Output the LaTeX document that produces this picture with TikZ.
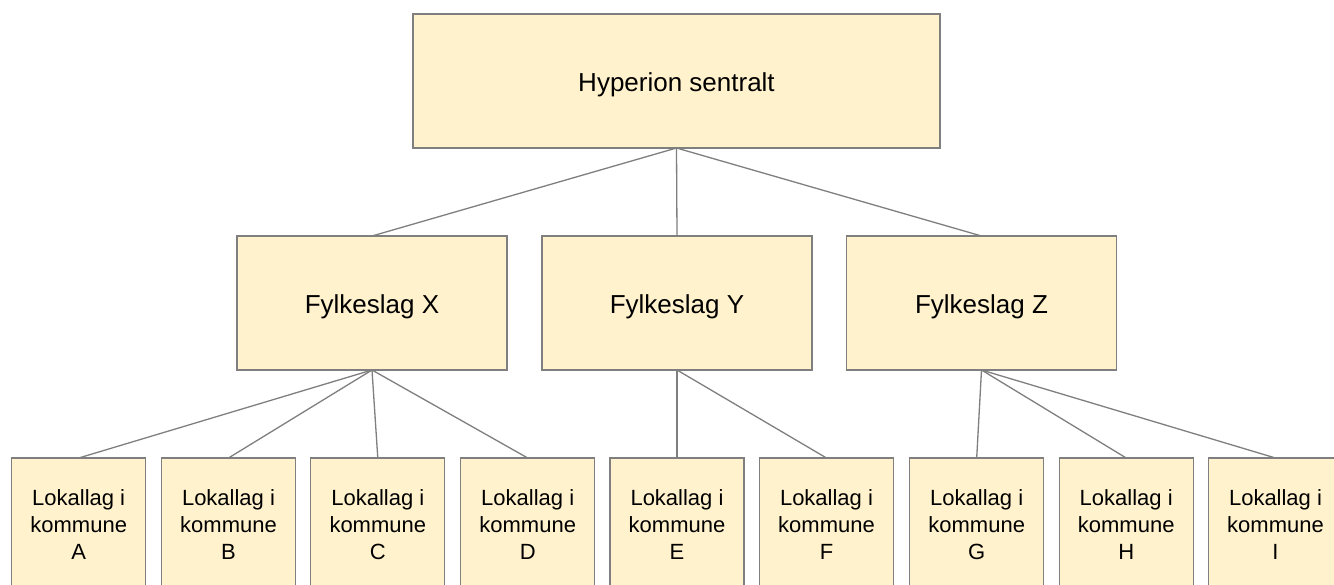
\documentclass[tikz,border=0pt]{standalone}
\usepackage{fontspec}
\setmainfont{Liberation Sans}
\definecolor{boxfill}{HTML}{FFF2CC}
\definecolor{boxline}{HTML}{7F7F7F}
\newcommand{\lowertext}[1]{\raisebox{-4pt}[\height][\depth]{#1}}
\begin{document}
\begin{tikzpicture}[x=1pt,y=-1pt,
  box/.style={draw=boxline, fill=boxfill, line width=1.3pt, inner sep=0pt, outer sep=0pt, align=center, text=black},
  bigbox/.style={box, minimum width=527pt, minimum height=134pt, font=\fontsize{26}{31}\selectfont},
  midbox/.style={box, minimum width=270pt, minimum height=134pt, font=\fontsize{26}{31}\selectfont},
  smallbox/.style={box, minimum width=134pt, minimum height=134pt, font=\fontsize{22}{27}\selectfont},
  link/.style={draw=boxline, line width=1.3pt}]
\useasboundingbox (0,0) rectangle (1334,585);
\fill[white] (0,0) rectangle (1334,585);
\clip (0,0) rectangle (1334,585);

\node[bigbox] (top) at (676.5,81) {\lowertext{Hyperion sentralt}};

\node[midbox] (X) at (372,303) {\lowertext{Fylkeslag X}};
\node[midbox] (Y) at (677,303) {\lowertext{Fylkeslag Y}};
\node[midbox] (Z) at (981.5,303) {\lowertext{Fylkeslag Z}};

\node[smallbox] (A) at (78.7,525) {Lokallag i\\kommune\\A};
\node[smallbox] (B) at (228.5,525) {Lokallag i\\kommune\\B};
\node[smallbox] (C) at (377.8,525) {Lokallag i\\kommune\\C};
\node[smallbox] (D) at (527.7,525) {Lokallag i\\kommune\\D};
\node[smallbox] (E) at (677,525) {Lokallag i\\kommune\\E};
\node[smallbox] (F) at (826.5,525) {Lokallag i\\kommune\\F};
\node[smallbox] (G) at (976.7,525) {Lokallag i\\kommune\\G};
\node[smallbox] (H) at (1126.2,525) {Lokallag i\\kommune\\H};
\node[smallbox] (I) at (1275.5,525) {Lokallag i\\kommune\\I};

\foreach \c in {X,Y,Z} \draw[link] (top.south) -- (\c.north);
\foreach \c in {A,B,C,D} \draw[link] (X.south) -- (\c.north);
\foreach \c in {E,F} \draw[link] (Y.south) -- (\c.north);
\foreach \c in {G,H,I} \draw[link] (Z.south) -- (\c.north);
\end{tikzpicture}
\end{document}
